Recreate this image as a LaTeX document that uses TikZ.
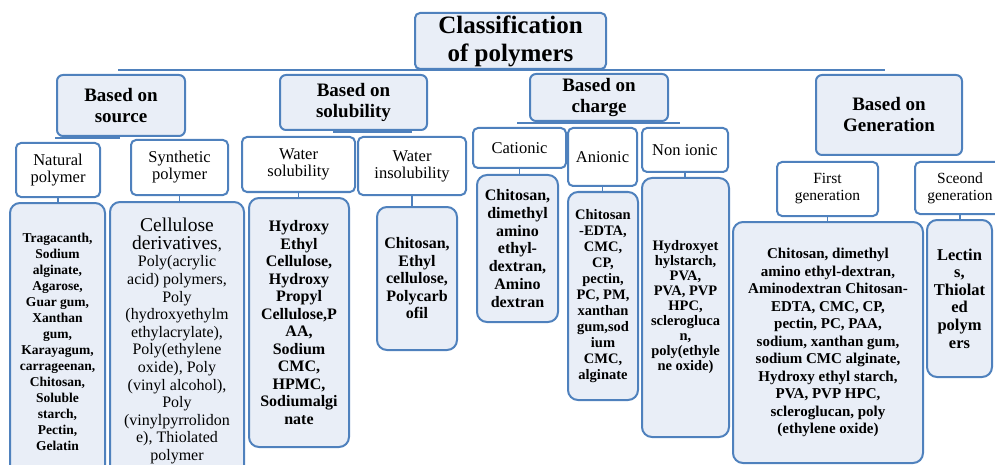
\documentclass[tikz,border=0pt]{standalone}
\usepackage{fontspec}
\setmainfont{Liberation Serif}
\definecolor{accent}{HTML}{4F81BD}
\definecolor{softaccent}{HTML}{E9EEF7}
\newcommand{\fs}[2]{\fontsize{#1}{#2}\selectfont}

\begin{document}
\begin{tikzpicture}[
	x=1pt, y=-1pt,
	titlebox/.style={
		draw=accent, line width=2pt, fill=softaccent, rounded corners=5pt,
		align=center, inner sep=0pt, font=\fs{25}{28}\bfseries
	},
	groupbox/.style={
		draw=accent, line width=2pt, fill=softaccent, rounded corners=6pt,
		align=center, inner sep=0pt, font=\fs{19}{21}\bfseries
	},
	typebox/.style={
		draw=accent, line width=2pt, fill=white, rounded corners=5pt,
		align=center, inner sep=0pt, font=\fs{16.5}{17}
	},
	listbox/.style={
		draw=accent, line width=2pt, fill=softaccent, rounded corners=10pt,
		align=center, inner sep=0pt
	},
	link/.style={draw=accent, line width=1.5pt}
	]
	
	\useasboundingbox (0,0) rectangle (995,465);
	
	% ==========================================
	% ROOT
	% ==========================================
	
	\node[titlebox, minimum width=191, minimum height=56] (root) at (510.5,41)
	{Classification\\ of polymers};
	
	% ==========================================
	% LEVEL 1: criteria
	% ==========================================
	
	\node[groupbox, minimum width=128, minimum height=61] (src) at (121,105.5) {Based on\\ source};
	\node[groupbox, minimum width=147, minimum height=55] (sol) at (353.5,102.5) {Based on\\ solubility};
	\node[groupbox, minimum width=138, minimum height=47] (chg) at (599,97.5) {Based on\\ charge};
	\node[groupbox, minimum width=146, minimum height=80] (gen) at (889,115) {Based on\\ Generation};
	
	% ==========================================
	% LEVEL 2: types
	% ==========================================
	
	\node[typebox, minimum width=84, minimum height=54] (nat) at (58,170) {Natural\\ polymer};
	\node[typebox, minimum width=97, minimum height=55] (syn) at (179.5,167.5) {Synthetic\\ polymer};
	\node[typebox, minimum width=113, minimum height=55] (wsol) at (298.5,164.5) {Water\\ solubility};
	\node[typebox, minimum width=108, minimum height=58] (wins) at (412,166) {Water\\ insolubility};
	\node[typebox, minimum width=93, minimum height=40] (cat) at (519.5,148) {Cationic};
	\node[typebox, minimum width=69, minimum height=58] (ani) at (602.5,157) {Anionic};
	\node[typebox, minimum width=86, minimum height=44] (non) at (685,150) {Non ionic};
	\node[typebox, minimum width=101, minimum height=54, font=\fs{15.5}{17}] (first) at (827.5,189) {First\\ generation};
	\node[typebox, minimum width=90, minimum height=52, font=\fs{15.5}{17}] (second) at (960,188) {Sceond\\ generation};
	
	% ==========================================
	% LEVEL 3: examples
	% ==========================================
	
	\node[listbox, minimum width=95, minimum height=277, font=\fs{13.5}{16}\bfseries] (natl) at (57.5,341.5)
	{Tragacanth,\\ Sodium\\ alginate,\\ Agarose,\\ Guar gum,\\ Xanthan\\ gum,\\ Karayagum,\\ carrageenan,\\ Chitosan,\\ Soluble\\ starch,\\ Pectin,\\ Gelatin};
	
	% first two lines set larger
	\node[listbox, minimum width=134, minimum height=278, font=\fs{16}{17.6}] (synl) at (177,341)
	{\fs{19.5}{22}Cellulose\\ \fs{19.5}{22}derivatives\fs{16}{17.6},\\ Poly(acrylic\\ acid) polymers,\\ Poly\\ (hydroxyethylm\\ ethylacrylate),\\ Poly(ethylene\\ oxide), Poly\\ (vinyl alcohol),\\ Poly\\ (vinylpyrrolidon\\ e), Thiolated\\ polymer};
	
	\node[listbox, minimum width=100, minimum height=249, font=\fs{16}{17.5}\bfseries] (wsoll) at (299,322.5)
	{Hydroxy\\ Ethyl\\ Cellulose,\\ Hydroxy\\ Propyl\\ Cellulose,P\\ AA,\\ Sodium\\ CMC,\\ HPMC,\\ Sodiumalgi\\ nate};
	
	\node[listbox, minimum width=80, minimum height=143, font=\fs{16}{17.5}\bfseries] (winsl) at (417,278.5)
	{Chitosan,\\ Ethyl\\ cellulose,\\ Polycarb\\ ofil};
	
	\node[listbox, minimum width=81, minimum height=147, font=\fs{16}{17.8}\bfseries] (catl) at (517.5,248.5)
	{Chitosan,\\ dimethyl\\ amino\\ ethyl-\\ dextran,\\ Amino\\ dextran};
	
	\node[listbox, minimum width=70, minimum height=208, font=\fs{14.5}{16}\bfseries] (anil) at (603,296)
	{Chitosan\\ -EDTA,\\ CMC,\\ CP,\\ pectin,\\ PC, PM,\\ xanthan\\ gum,sod\\ ium\\ CMC,\\ alginate};
	
	\node[listbox, minimum width=87, minimum height=259, font=\fs{14.5}{15}\bfseries] (nonl) at (685.5,307.5)
	{Hydroxyet\\ hylstarch,\\ PVA,\\ PVA, PVP\\ HPC,\\ sclerogluca\\ n,\\ poly(ethyle\\ ne oxide)};
	
	\node[listbox, minimum width=190, minimum height=241, font=\fs{15}{17.5}\bfseries] (firstl) at (828,342.5)
	{Chitosan, dimethyl\\ amino ethyl-dextran,\\ Aminodextran Chitosan-\\ EDTA, CMC, CP,\\ pectin, PC, PAA,\\ sodium, xanthan gum,\\ sodium CMC alginate,\\ Hydroxy ethyl starch,\\ PVA, PVP HPC,\\ scleroglucan, poly\\ (ethylene oxide)};
	
	\node[listbox, minimum width=65, minimum height=157, font=\fs{16.5}{17.6}\bfseries] (secondl) at (959.5,298.5)
	{Lectin\\ s,\\ Thiolat\\ ed\\ polym\\ ers};
	
	% ==========================================
	% CONNECTORS
	% ==========================================
	
	% bus lines under the boxes
	\coordinate (busL) at (118,70);
	\coordinate (busR) at (885,70);
	\draw[link] (busL) -- (busR);
	
	\coordinate (srcL) at (55,138);
	\coordinate (srcR) at (120,138);
	\draw[link] (srcL) -- (srcR);
	
	\coordinate (solL) at (333,132);
	\coordinate (solR) at (412,132);
	\draw[link] (solL) -- (solR);
	
	\coordinate (chgL) at (517,123);
	\coordinate (chgR) at (680,123);
	\draw[link] (chgL) -- (chgR);
	
	% short links from each type to its examples
	\foreach \a/\b in {nat/natl, syn/synl, wsol/wsoll, wins/winsl, cat/catl,
		ani/anil, non/nonl, first/firstl, second/secondl}
	\draw[link] (\a.south) -- (\a.south |- \b.north);
	
\end{tikzpicture}
\end{document}
